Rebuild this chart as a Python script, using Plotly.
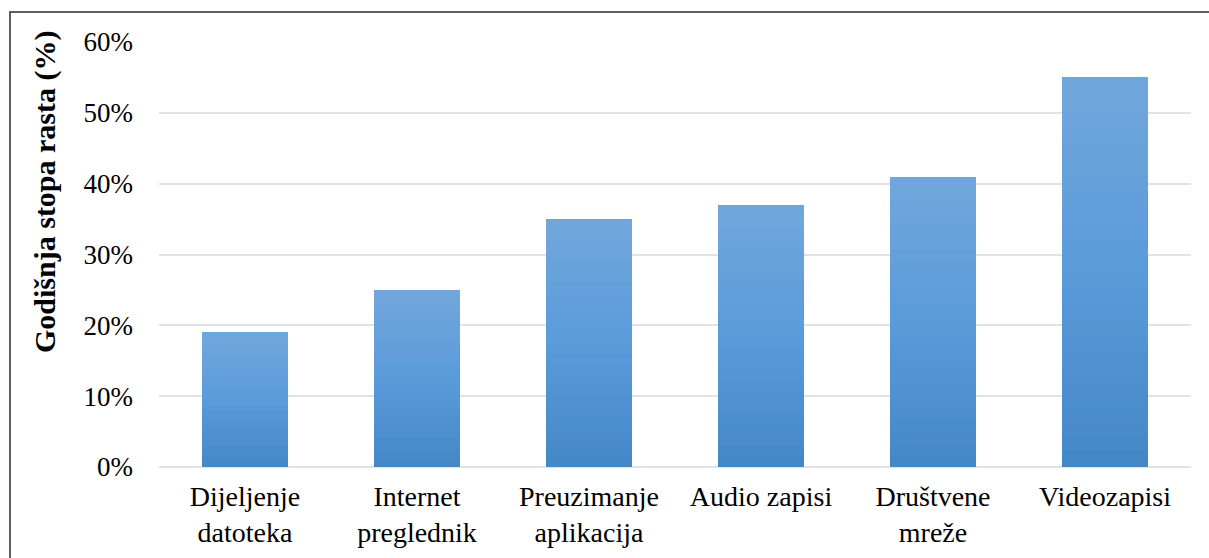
import plotly.graph_objects as go

categories = ["Dijeljenje<br>datoteka", "Internet<br>preglednik", "Preuzimanje<br>aplikacija",
              "Audio zapisi", "Društvene<br>mreže", "Videozapisi"]
values = [19, 25, 35, 37, 41, 55]
y_ticks = [0, 10, 20, 30, 40, 50, 60]
y_tick_labels = ["0%", "10%", "20%", "30%", "40%", "50%", "60%"]
y_title = "Godišnja stopa rasta (%)"

FONT = "'Liberation Serif', 'Times New Roman', 'DejaVu Serif', serif"

# gradient colours (bottom -> top) for bar fill
bottom_rgb = (68, 135, 199)
mid_rgb = (90, 155, 218)
top_rgb = (114, 167, 220)
N_SEG = 24


def lerp(a, b, t):
    return tuple(int(round(a[i] + (b[i] - a[i]) * t)) for i in range(3))


def grad(t):
    if t < 0.5:
        c = lerp(bottom_rgb, mid_rgb, t / 0.5)
    else:
        c = lerp(mid_rgb, top_rgb, (t - 0.5) / 0.5)
    return "rgb(%d,%d,%d)" % c


fig = go.Figure()
for k in range(N_SEG):
    t = (k + 0.5) / N_SEG
    fig.add_trace(go.Bar(
        x=categories,
        y=[v / N_SEG for v in values],
        marker=dict(color=grad(t), line=dict(width=0)),
        width=0.505,
        showlegend=False,
        hoverinfo="skip",
    ))

W, H = 1209, 558
L, R, T, B = 159, 18, 42, 91
pw, ph = W - L - R, H - T - B


def px_x(p):
    return (p - L) / pw


def px_y(p):
    return (H - B - p) / ph


fig.update_layout(
    width=W, height=H,
    margin=dict(l=L, r=R, t=T, b=B, autoexpand=False),
    barmode="stack",
    bargap=0.0,
    plot_bgcolor="white",
    paper_bgcolor="white",
    font=dict(family=FONT, size=28, color="black"),
    xaxis=dict(
        showgrid=False, showline=False, zeroline=False, ticks="",
        tickfont=dict(size=28, color="black", family=FONT),
        ticklabelstandoff=10,
    ),
    yaxis=dict(
        range=[0, 60], tickvals=y_ticks, ticktext=y_tick_labels,
        showgrid=True, gridcolor="#dfe3e9", gridwidth=2,
        zeroline=True, zerolinecolor="#dfe3e9", zerolinewidth=2,
        showline=False, ticks="",
        tickfont=dict(size=27, color="black", family=FONT),
        ticklabelstandoff=25,
    ),
    shapes=[dict(
        type="rect", xref="paper", yref="paper",
        x0=px_x(10), x1=px_x(1220), y0=px_y(580), y1=px_y(12),
        line=dict(color="#5f5f5f", width=2), fillcolor="rgba(0,0,0,0)",
        layer="above",
    )],
    annotations=[dict(
        text="<b>" + y_title + "</b>", textangle=-90,
        xref="paper", yref="paper", x=px_x(45), y=px_y(192),
        xanchor="center", yanchor="middle", showarrow=False,
        font=dict(family=FONT, size=30, color="black"),
    )],
)

fig.write_html("out.html", config={"displayModeBar": False},
               post_script="document.body.style.margin='0';document.body.style.padding='0';")
